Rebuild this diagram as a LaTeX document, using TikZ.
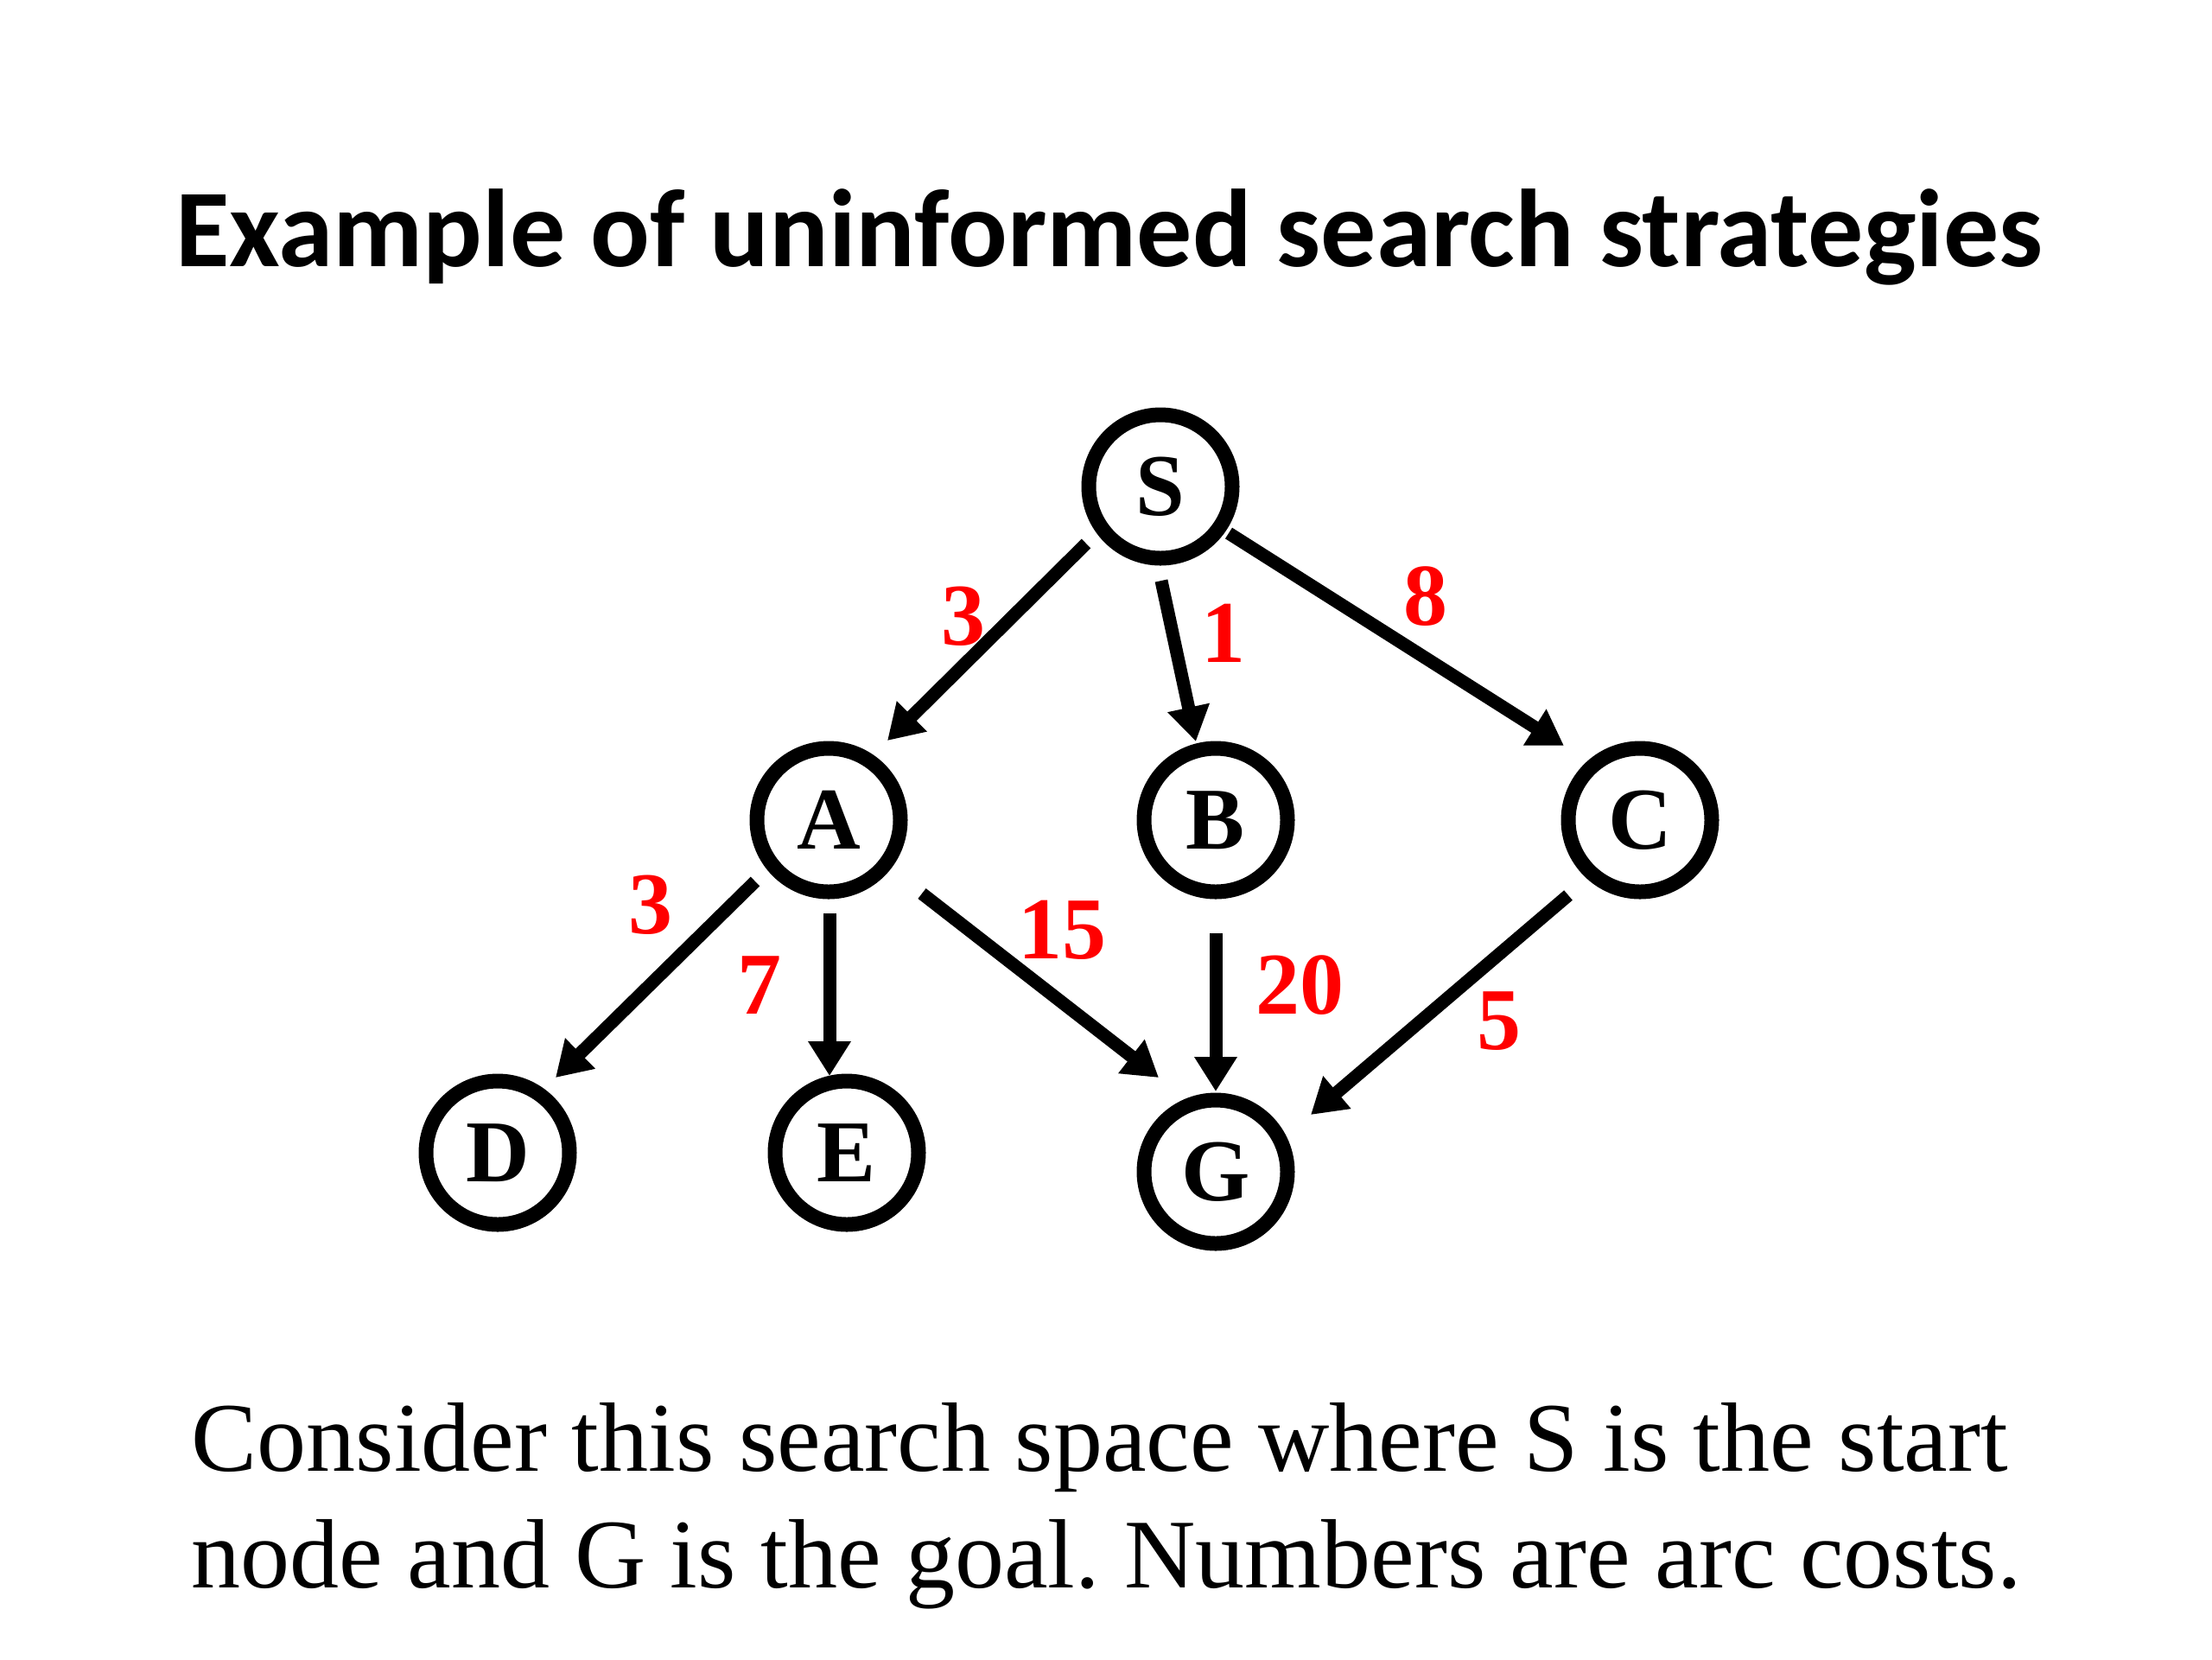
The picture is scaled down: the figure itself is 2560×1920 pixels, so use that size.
\documentclass[tikz,border=0pt]{standalone}
\usepackage{fontspec}
\setmainfont{Liberation Serif}
\newfontfamily\titlefont{Carlito}
\usetikzlibrary{arrows.meta,calc}
\definecolor{costred}{RGB}{255,0,0}
\frenchspacing
\begin{document}
\begin{tikzpicture}[x=0.25pt,y=-0.25pt,
  state/.style={circle,draw=black,line width=4.25pt,minimum size=41.5pt,inner sep=0pt,
    font=\fontsize{25.5pt}{30pt}\selectfont\bfseries},
  arc/.style={line width=3.75pt,-{Triangle[length=10pt,width=11.75pt]}},
  cost/.style={text=costred,inner sep=0pt,font=\fontsize{25.5pt}{30pt}\selectfont\bfseries}]
\useasboundingbox (0,0) rectangle (2560,1920);
\fill[white] (0,0) rectangle (2560,1920);

\node[anchor=base,inner sep=0pt,font=\titlefont\fontsize{32pt}{38pt}\selectfont\bfseries] (title) at (1284,308) {Example of uninformed search strategies};

\node[state] (S) at (1343,563) {S};
\node[state] (A) at (959,949) {A};
\node[state] (B) at (1407,949) {B};
\node[state] (C) at (1898,949) {C};
\node[state] (D) at (576,1334) {D};
\node[state] (E) at (980,1334) {E};
\node[state] (G) at (1407,1356) {G};

\draw[arc] ($(S)+(-86,66)$) -- ($(A)+(68,-92)$);
\draw[arc] ($(S)+(1,109)$) -- ($(B)+(-23,-91)$);
\draw[arc] ($(S)+(79,54)$) -- ($(C)+(-88,-86)$);
\draw[arc] ($(A)+(-85,71)$) -- ($(D)+(67,-87)$);
\draw[arc] ($(A)+(1,108)$) -- ($(E)+(-20,-89)$);
\draw[arc] ($(A)+(108,85)$) -- ($(G)+(-66,-109)$);
\draw[arc] ($(B)+(0,131)$) -- ($(G)+(0,-93)$);
\draw[arc] ($(C)+(-83,87)$) -- ($(G)+(110,-66)$);

\node[cost] (cSA) at (1115,713) {3};
\node[cost] (cSB) at (1416,733) {1};
\node[cost] (cSC) at (1650,690) {8};
\node[cost] (cAD) at (753,1047) {3};
\node[cost] (cAE) at (879,1140) {7};
\node[cost] (cAG) at (1229,1076) {15};
\node[cost] (cBG) at (1504,1140) {20};
\node[cost] (cCG) at (1735,1182) {5};

\node[anchor=base west,inner sep=0pt,font=\fontsize{28.5pt}{34pt}\selectfont] (l1) at (221,1702) {Consider this search space where S is the start};
\node[anchor=base west,inner sep=0pt,font=\fontsize{28.5pt}{34pt}\selectfont] (l2) at (221,1837) {node and G is the goal. Numbers are arc costs.};
\end{tikzpicture}
\end{document}
